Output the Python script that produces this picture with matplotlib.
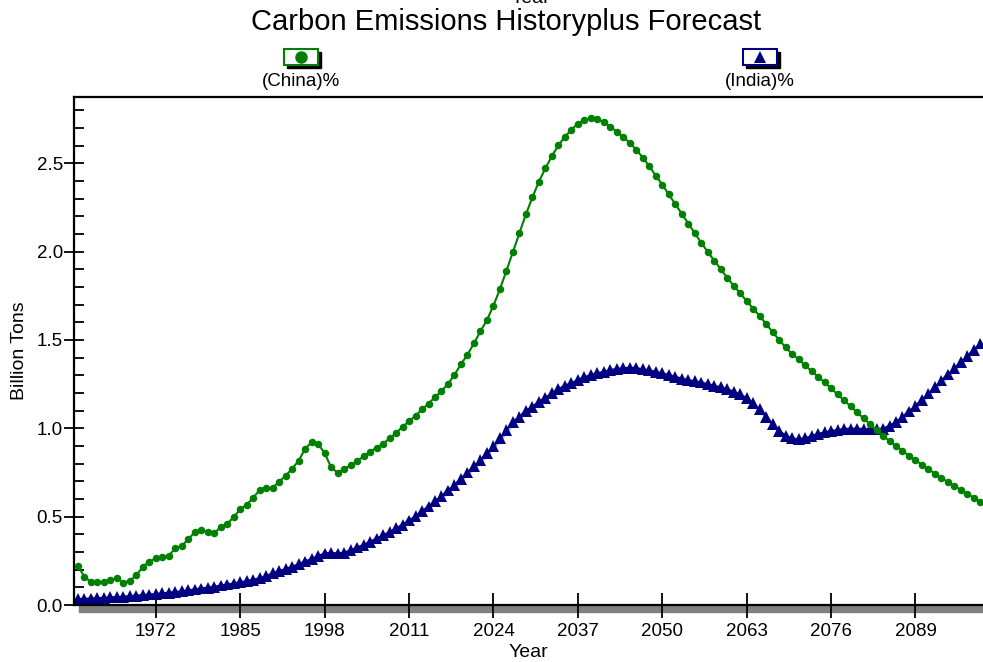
import matplotlib
matplotlib.use('Agg')
import matplotlib.pyplot as plt
import matplotlib.patheffects as pe
from matplotlib.patches import Rectangle
from matplotlib.lines import Line2D
from matplotlib.ticker import MultipleLocator, FormatStrFormatter

plt.rcParams['font.family'] = ['Liberation Sans', 'DejaVu Sans']

years = list(range(1960, 2100))

china = [
    0.222, 0.160, 0.130, 0.130, 0.130, 0.140, 0.153, 0.126, 0.138, 0.168,  # 1960s
    0.217, 0.245, 0.264, 0.273, 0.279, 0.321, 0.334, 0.373, 0.411, 0.424,  # 1970s
    0.413, 0.407, 0.440, 0.460, 0.498, 0.541, 0.568, 0.607, 0.651, 0.662,  # 1980s
    0.664, 0.698, 0.732, 0.771, 0.817, 0.885, 0.921, 0.911, 0.860, 0.779,  # 1990s
    0.749, 0.770, 0.790, 0.815, 0.841, 0.868, 0.890, 0.913, 0.943, 0.973,  # 2000s
    1.009, 1.040, 1.071, 1.107, 1.139, 1.177, 1.211, 1.251, 1.303, 1.362,  # 2010s
    1.417, 1.481, 1.549, 1.613, 1.694, 1.788, 1.892, 1.998, 2.105, 2.211,  # 2020s
    2.307, 2.396, 2.471, 2.541, 2.601, 2.650, 2.690, 2.724, 2.745, 2.754,  # 2030s
    2.749, 2.732, 2.707, 2.679, 2.649, 2.615, 2.577, 2.532, 2.483, 2.430,  # 2040s
    2.379, 2.324, 2.269, 2.213, 2.158, 2.104, 2.050, 2.000, 1.949, 1.902,  # 2050s
    1.852, 1.807, 1.764, 1.720, 1.677, 1.636, 1.590, 1.545, 1.500, 1.458,  # 2060s
    1.420, 1.392, 1.356, 1.324, 1.292, 1.260, 1.226, 1.192, 1.158, 1.125,  # 2070s
    1.090, 1.057, 1.023, 0.990, 0.958, 0.928, 0.900, 0.872, 0.845, 0.819,  # 2080s
    0.794, 0.768, 0.743, 0.719, 0.696, 0.673, 0.652, 0.630, 0.607, 0.585,  # 2090s
]

india = [
    0.033, 0.035, 0.037, 0.039, 0.041, 0.043, 0.045, 0.047, 0.050, 0.053,  # 1960s
    0.056, 0.059, 0.062, 0.066, 0.070, 0.074, 0.078, 0.083, 0.088, 0.093,  # 1970s
    0.098, 0.104, 0.110, 0.116, 0.122, 0.129, 0.135, 0.143, 0.152, 0.163,  # 1980s
    0.180, 0.192, 0.204, 0.217, 0.231, 0.246, 0.261, 0.277, 0.291, 0.296,  # 1990s
    0.291, 0.296, 0.310, 0.325, 0.341, 0.358, 0.376, 0.394, 0.413, 0.434,  # 2000s
    0.455, 0.478, 0.503, 0.530, 0.558, 0.587, 0.617, 0.648, 0.680, 0.715,  # 2010s
    0.750, 0.785, 0.820, 0.860, 0.900, 0.943, 0.990, 1.037, 1.066, 1.100,  # 2020s
    1.122, 1.150, 1.173, 1.198, 1.221, 1.241, 1.255, 1.273, 1.289, 1.302,  # 2030s
    1.311, 1.320, 1.330, 1.336, 1.340, 1.343, 1.341, 1.334, 1.328, 1.320,  # 2040s
    1.311, 1.302, 1.292, 1.281, 1.273, 1.266, 1.259, 1.250, 1.241, 1.232,  # 2050s
    1.221, 1.207, 1.192, 1.170, 1.141, 1.107, 1.066, 1.024, 0.987, 0.958,  # 2060s
    0.943, 0.938, 0.943, 0.956, 0.968, 0.977, 0.985, 0.990, 0.996, 0.998,  # 2070s
    0.998, 0.996, 0.994, 0.994, 0.998, 1.015, 1.035, 1.065, 1.095, 1.128,  # 2080s
    1.162, 1.197, 1.232, 1.270, 1.305, 1.340, 1.375, 1.410, 1.445, 1.480,  # 2090s
]

year_ticks = [1972, 1985, 1998, 2011, 2024, 2037, 2050, 2063, 2076, 2089]

W, H = 983, 662
fig = plt.figure(figsize=(W / 100, H / 100), dpi=100)
ax = fig.add_axes([74 / W, 57 / H, (W - 74) / W, (605 - 97) / H])

green = '#008000'
navy = '#000080'

ax.plot(years, china, color=green, lw=1.5, marker='o', markersize=5.4,
        markeredgewidth=0, zorder=3)
ax.plot(years, india, color=navy, lw=1.5, marker='^', markersize=8.5,
        markeredgewidth=0, zorder=2,
        path_effects=[pe.SimpleLineShadow(offset=(0.5, -1.5), shadow_color='#8080ff', alpha=0.7),
                      pe.Normal()])

ax.set_xlim(1959.4, 2099.4)
ax.set_ylim(0, 2.875)
ax.set_xticks(year_ticks)
ax.yaxis.set_major_locator(MultipleLocator(0.5))
ax.yaxis.set_minor_locator(MultipleLocator(0.1))
ax.yaxis.set_major_formatter(FormatStrFormatter('%.1f'))
ax.tick_params(axis='x', direction='inout', length=18, width=1.3, labelsize=13.5, pad=4)
ax.tick_params(axis='y', which='major', direction='inout', length=14, width=1.3,
               labelsize=13.5, pad=1)
ax.tick_params(axis='y', which='minor', direction='in', length=7, width=1.3)

for s in ['left', 'top', 'bottom']:
    ax.spines[s].set_linewidth(1.6)
ax.spines['right'].set_visible(False)

# gray shadow under the x axis
ax.add_patch(Rectangle((0.006, -0.013), 1.0, 0.013, transform=ax.transAxes,
                       color='#808080', clip_on=False, zorder=1))

ax.set_xlabel('Year', fontsize=14, labelpad=3)
ax.set_ylabel('Billion Tons', fontsize=14, labelpad=6)

fig.text(506 / W, 1 - 22 / H, 'Carbon Emissions Historyplus Forecast',
         ha='center', va='center', fontsize=21)
# axis title echoed at the very top, clipped by the image edge as in the original
fig.text(530 / W, 1 - 3 / H, 'Year', ha='center', va='baseline', fontsize=14)


def legend_entry(cx, marker, color, label):
    bw, bh = 34, 16
    x0, y0 = cx - bw / 2, 49
    fig.add_artist(Rectangle(((x0 + 3) / W, 1 - (y0 + bh + 3) / H), bw / W, bh / H,
                             transform=fig.transFigure, color='black'))
    fig.add_artist(Rectangle((x0 / W, 1 - (y0 + bh) / H), bw / W, bh / H,
                             transform=fig.transFigure, facecolor='white',
                             edgecolor=color, lw=1.5))
    fig.add_artist(Line2D([cx / W], [1 - (y0 + bh / 2) / H], marker=marker,
                          markersize=9, color=color, markeredgewidth=0,
                          transform=fig.transFigure))
    fig.text(cx / W, 1 - 82 / H, label, ha='center', va='center', fontsize=13.5)


legend_entry(301, 'o', green, '(China)%')
legend_entry(760, '^', navy, '(India)%')

fig.savefig('out.png', dpi=100)
